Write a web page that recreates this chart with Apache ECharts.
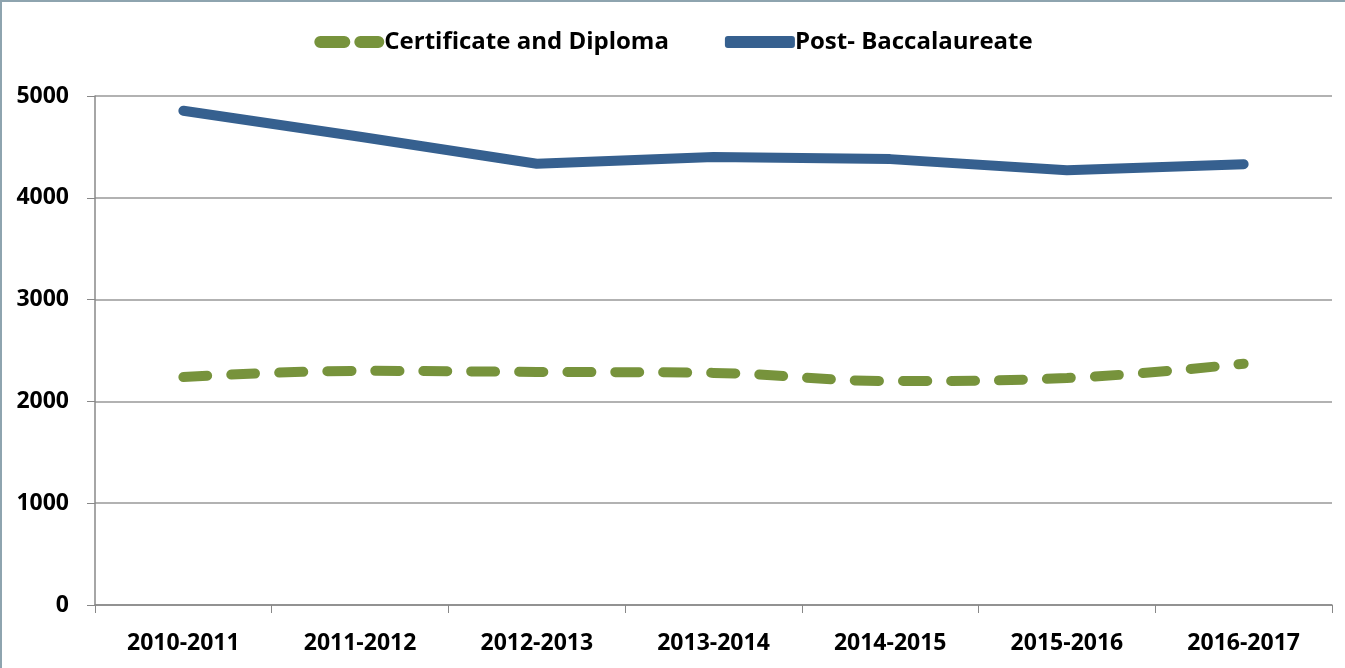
<!DOCTYPE html>
<html>
<head>
<meta charset="utf-8">
<script src="https://cdn.jsdelivr.net/npm/echarts@6/dist/echarts.min.js"></script>
<style>
  html, body { margin: 0; padding: 0; background: #fff; }
  #chart {
    box-sizing: border-box;
    width: 1345px;
    height: 668px;
    border-top: 2px solid #8ea4af;
    border-left: 2px solid #8ea4af;
  }
</style>
</head>
<body>
<div id="chart"></div>
<script>
// academic years on the x axis
const years = ['2010-2011', '2011-2012', '2012-2013', '2013-2014', '2014-2015', '2015-2016', '2016-2017']
// counts
const certificate = [2240, 2300, 2290, 2280, 2200, 2230, 2370]
const postBacc = [4855, 4600, 4335, 4400, 4380, 4270, 4330]

const labelFont = {
  fontFamily: 'Open Sans',
  fontWeight: 'bold',
  fontSize: 23,
  color: '#000'
}

// two rounded dashes for the dashed series legend
const dashIcon = 'path://M6,0 L30,0 A6,6 0 0 1 30,12 L6,12 A6,6 0 0 1 6,0 Z M46,0 L64,0 A6,6 0 0 1 64,12 L46,12 A6,6 0 0 1 46,0 Z'

const chart = echarts.init(document.getElementById('chart'))
chart.setOption({
  animation: false,
  grid: {
    left: 93,
    right: 13,
    top: 94,
    bottom: 63
  },
  legend: {
    top: 23,
    left: 'center',
    itemWidth: 70,
    itemHeight: 12,
    itemGap: 56,
    textStyle: Object.assign({}, labelFont, { fontSize: 24, padding: [0, 0, 0, -5] }),
    data: [
      { name: 'Certificate and Diploma', icon: dashIcon },
      { name: 'Post- Baccalaureate', icon: 'roundRect' }
    ]
  },
  xAxis: {
    type: 'category',
    data: years,
    boundaryGap: true,
    axisLine: { lineStyle: { color: '#888', width: 1.5 } },
    axisTick: { show: true, length: 8, lineStyle: { color: '#888' } },
    axisLabel: Object.assign({}, labelFont, { margin: 27 }),
    splitLine: { show: false }
  },
  yAxis: {
    type: 'value',
    min: 0,
    max: 5000,
    interval: 1000,
    axisLine: { show: true, lineStyle: { color: '#888', width: 1.5 } },
    axisTick: { show: true, length: 8, lineStyle: { color: '#888' } },
    axisLabel: Object.assign({}, labelFont, { margin: 26, formatter: v => String(v) }),
    splitLine: { lineStyle: { color: '#999', width: 1.5 } }
  },
  series: [
    {
      name: 'Certificate and Diploma',
      type: 'line',
      data: certificate,
      smooth: 0.4,
      symbol: 'none',
      itemStyle: { color: '#77933c' },
      lineStyle: { color: '#77933c', width: 10, type: [24, 24], cap: 'round' }
    },
    {
      name: 'Post- Baccalaureate',
      type: 'line',
      data: postBacc,
      symbol: 'none',
      itemStyle: { color: '#36608f' },
      lineStyle: { color: '#36608f', width: 10, cap: 'round', join: 'round' }
    }
  ]
})
</script>
</body>
</html>
